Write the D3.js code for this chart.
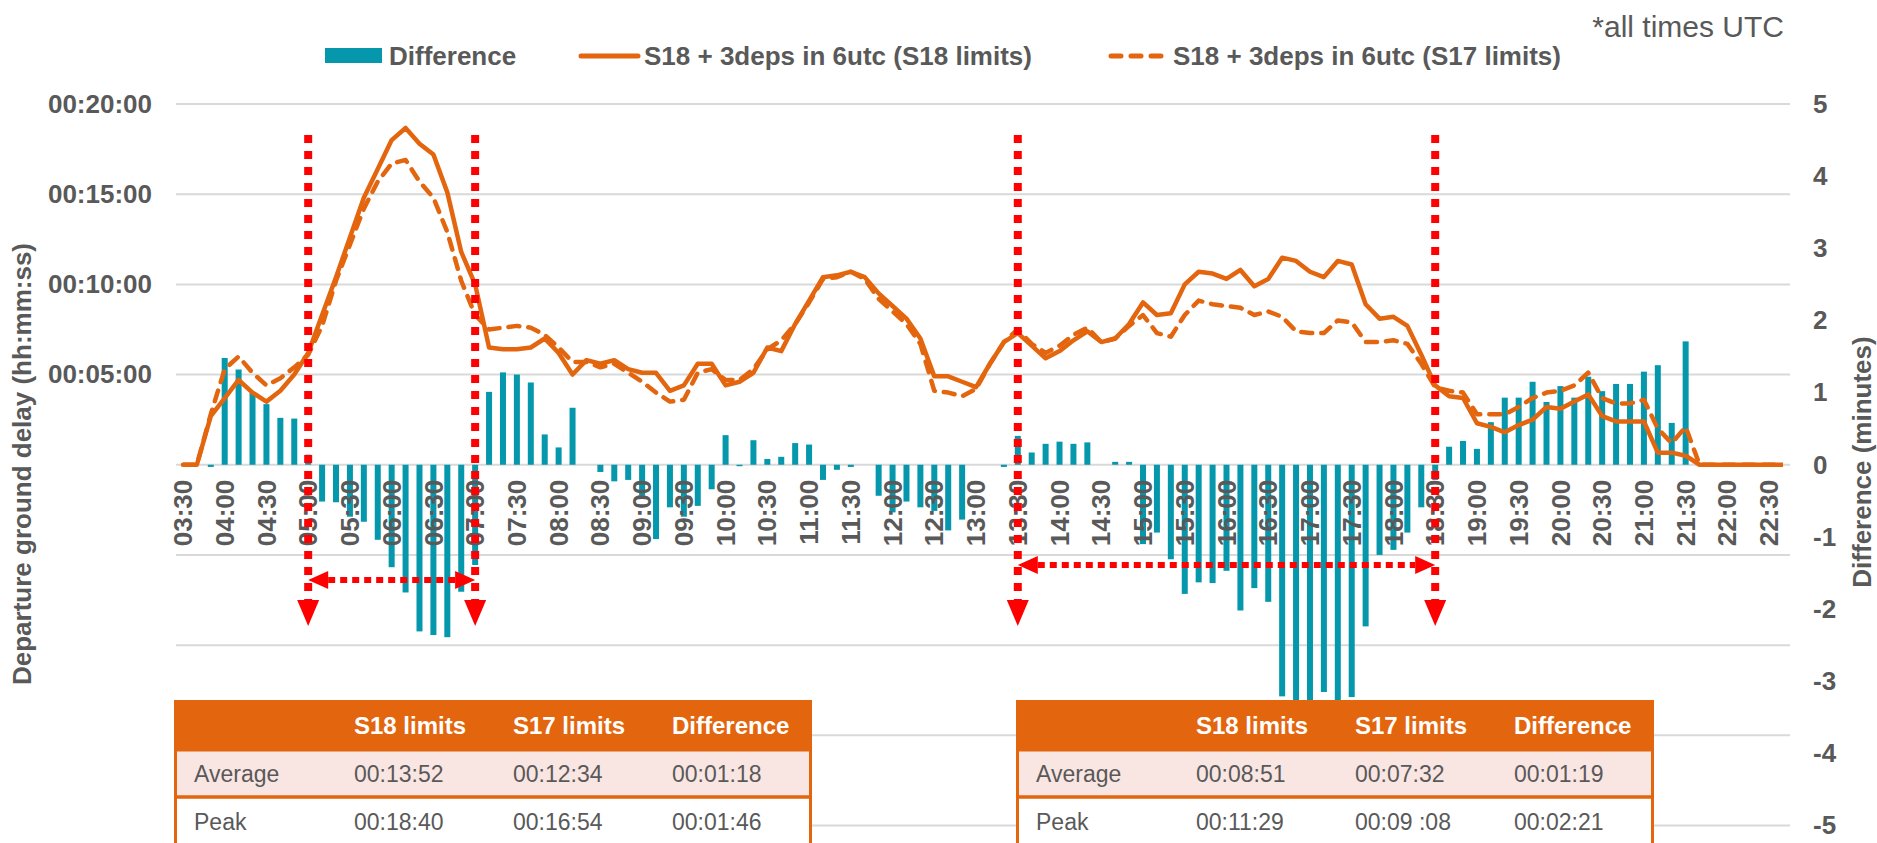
<!DOCTYPE html>
<html><head><meta charset="utf-8">
<script src="https://cdn.jsdelivr.net/npm/d3@7"></script>
<style>
body{margin:0;background:#fff;}
text{font-family:"Liberation Sans",Arial,sans-serif;}
</style>
</head><body><svg id="chart" width="1877" height="843"></svg>
<script>
// ---------------- DATA ----------------
const categories = [
"03:30","03:40","03:50",
"04:00","04:10","04:20","04:30","04:40","04:50",
"05:00","05:10","05:20","05:30","05:40","05:50",
"06:00","06:10","06:20","06:30","06:40","06:50",
"07:00","07:10","07:20","07:30","07:40","07:50",
"08:00","08:10","08:20","08:30","08:40","08:50",
"09:00","09:10","09:20","09:30","09:40","09:50",
"10:00","10:10","10:20","10:30","10:40","10:50",
"11:00","11:10","11:20","11:30","11:40","11:50",
"12:00","12:10","12:20","12:30","12:40","12:50",
"13:00","13:10","13:20","13:30","13:40","13:50",
"14:00","14:10","14:20","14:30","14:40","14:50",
"15:00","15:10","15:20","15:30","15:40","15:50",
"16:00","16:10","16:20","16:30","16:40","16:50",
"17:00","17:10","17:20","17:30","17:40","17:50",
"18:00","18:10","18:20","18:30","18:40","18:50",
"19:00","19:10","19:20","19:30","19:40","19:50",
"20:00","20:10","20:20","20:30","20:40","20:50",
"21:00","21:10","21:20","21:30","21:40","21:50",
"22:00","22:10","22:20","22:30","22:40"];

const xTickLabels = ["03:30","04:00","04:30","05:00","05:30","06:00","06:30","07:00","07:30",
"08:00","08:30","09:00","09:30","10:00","10:30","11:00","11:30","12:00","12:30","13:00",
"13:30","14:00","14:30","15:00","15:30","16:00","16:30","17:00","17:30","18:00","18:30",
"19:00","19:30","20:00","20:30","21:00","21:30","22:00","22:30"];

// departure ground delay, minutes
const s18Limits = [
0,0,2.7,3.7,4.7,4.0,3.5,4.1,5.0,6.2,
8.3,10.4,12.6,14.8,16.4,18.0,18.67,17.8,17.2,15.1,
11.8,10.0,6.5,6.4,6.4,6.5,7.0,6.2,5.0,5.8,
5.6,5.8,5.3,5.1,5.1,4.1,4.4,5.6,5.6,4.4,
4.6,5.1,6.5,6.3,7.8,9.1,10.4,10.5,10.7,10.4,
9.5,8.8,8.1,7.0,4.9,4.9,4.6,4.3,5.6,6.8,
7.3,6.6,5.9,6.3,6.9,7.4,6.8,7.0,7.8,9.0,
8.3,8.4,10.0,10.7,10.6,10.3,10.8,9.9,10.3,11.48,
11.3,10.7,10.4,11.3,11.1,8.9,8.1,8.2,7.7,6.1,
4.4,3.8,3.7,2.3,2.1,1.8,2.2,2.5,3.2,3.1,
3.5,3.9,2.7,2.4,2.4,2.4,0.67,0.67,0.5,0,
0,0,0,0,0,0];

const s17Limits = [
0,0,2.8,5.3,6.0,5.1,4.4,4.8,5.4,6.1,
7.7,10.2,12.2,14.2,15.7,16.7,16.9,15.7,14.8,12.9,
10.2,8.3,7.5,7.6,7.7,7.6,7.2,6.5,5.7,5.7,
5.4,5.6,5.1,4.6,4.0,3.5,3.6,5.1,5.3,4.7,
4.7,5.3,6.4,6.9,7.8,9.0,10.3,10.4,10.7,10.3,
9.2,8.5,7.8,6.7,4.1,4.0,3.8,4.2,5.6,6.8,
7.5,6.7,6.2,6.6,7.2,7.6,6.8,7.0,7.7,8.3,
7.3,7.1,8.3,9.1,8.9,8.8,8.7,8.3,8.5,8.2,
7.4,7.3,7.3,8.0,7.9,6.8,6.8,6.9,6.7,5.6,
4.3,4.1,4.0,2.8,2.8,2.8,3.2,3.7,4.0,4.1,
4.4,5.1,3.7,3.4,3.4,3.6,2.0,1.2,2.1,0,
0,0,0,0,0,0];

// difference, minutes (right axis)
const difference = [
0,0,-0.03,1.48,1.32,1.0,0.84,0.65,0.64,0.14,
-0.51,-0.52,-0.72,-0.79,-1.04,-1.42,-1.77,-2.31,-2.36,-2.39,
-1.76,-1.39,1.01,1.28,1.25,1.14,0.42,0.24,0.79,0,
-0.10,-0.23,-0.21,-0.43,-1.03,-0.59,-0.72,-0.57,-0.34,0.41,
-0.02,0.34,0.08,0.11,0.30,0.28,-0.21,-0.07,-0.03,0,
-0.43,-0.66,-0.51,-0.59,-0.64,-0.91,-0.76,0,0,-0.03,
0.40,0.17,0.29,0.32,0.29,0.31,0,0.04,0.04,-1.1,
-0.94,-1.31,-1.79,-1.63,-1.64,-1.47,-2.02,-1.71,-1.90,-3.21,
-3.35,-3.40,-3.15,-3.35,-3.22,-2.24,-1.25,-1.18,-0.94,-0.59,
-0.21,0.25,0.33,0.22,0.59,0.93,0.93,1.15,0.87,1.09,
0.93,1.22,1.02,1.12,1.12,1.29,1.38,0.58,1.71,0,
0,0,0,0,0,0];

const leftTickValues = [5,10,15,20];
const leftTickLabels = ["00:05:00","00:10:00","00:15:00","00:20:00"];
const gridValues = [-20,-15,-10,-5,0,5,10,15,20];
const rightTickValues = [5,4,3,2,1,0,-1,-2,-3,-4,-5];

const windowMorning = ["05:00","07:00"];
const windowEvening = ["13:30","18:30"];

const tableHeader = ["", "S18 limits", "S17 limits", "Difference"];
const tableMorning = [["Average","00:13:52","00:12:34","00:01:18"],["Peak","00:18:40","00:16:54","00:01:46"]];
const tableEvening = [["Average","00:08:51","00:07:32","00:01:19"],["Peak","00:11:29","00:09 :08","00:02:21"]];

const legendLabels = ["Difference","S18 + 3deps in 6utc (S18 limits)","S18 + 3deps in 6utc (S17 limits)"];

// ---------------- STYLE ----------------
const TEXT = "#595959", GRID = "#D9D9D9", TEAL = "#0597AC", ORANGE = "#E3650E", RED = "#FF0000";
const FONT = "26px";

const svg = d3.select("#chart");

const x = d3.scaleBand().domain(categories).range([176, 1790]).padding(0);
const cx = c => x(c) + x.bandwidth() / 2;
const yL = d3.scaleLinear().domain([-20, 20]).range([825.5, 104]);
const yR = d3.scaleLinear().domain([-5, 5]).range([825.5, 104]);

// gridlines
svg.append("g").selectAll("line").data(gridValues).join("line")
  .attr("x1", 176).attr("x2", 1790)
  .attr("y1", d => yL(d)).attr("y2", d => yL(d))
  .attr("stroke", GRID).attr("stroke-width", 2);

// bars
svg.append("g").selectAll("rect").data(difference).join("rect")
  .attr("x", (d, i) => cx(categories[i]) - 3)
  .attr("width", 6)
  .attr("y", d => yR(Math.max(0, d)))
  .attr("height", d => Math.abs(yR(d) - yR(0)))
  .attr("fill", TEAL);

// lines
const line = d3.line().x((d, i) => cx(categories[i])).y(d => yL(d));
svg.append("path").datum(s17Limits).attr("d", line)
  .attr("fill", "none").attr("stroke", ORANGE).attr("stroke-width", 4.5)
  .attr("stroke-dasharray", "11 9").attr("stroke-linecap", "round").attr("stroke-linejoin", "round");
svg.append("path").datum(s18Limits).attr("d", line)
  .attr("fill", "none").attr("stroke", ORANGE).attr("stroke-width", 4.5)
  .attr("stroke-linejoin", "round");

// x axis
const xAxis = svg.append("g").attr("transform", `translate(0,${yL(0)})`)
  .call(d3.axisBottom(x).tickValues(xTickLabels).tickSize(0));
xAxis.select(".domain").remove();
xAxis.selectAll("text")
  .attr("transform", "rotate(-90)")
  .attr("text-anchor", "end")
  .attr("x", -15).attr("y", 0).attr("dy", "0.35em")
  .attr("fill", TEXT).style("font-size", FONT).style("font-weight", "bold")
  .style("font-family", '"Liberation Sans",Arial,sans-serif');

// left axis
const lAxis = svg.append("g").attr("transform", "translate(160,0)")
  .call(d3.axisLeft(yL).tickValues(leftTickValues).tickFormat((d, i) => leftTickLabels[i]).tickSize(0).tickPadding(8));
lAxis.select(".domain").remove();
lAxis.selectAll("text").attr("fill", TEXT).style("font-size", FONT).style("font-weight", "bold")
  .style("font-family", '"Liberation Sans",Arial,sans-serif');

// right axis
const rAxis = svg.append("g").attr("transform", "translate(1813,0)")
  .call(d3.axisRight(yR).tickValues(rightTickValues).tickFormat(d => String(d)).tickSize(0).tickPadding(0));
rAxis.select(".domain").remove();
rAxis.selectAll("text").attr("fill", TEXT).style("font-size", FONT).style("font-weight", "bold")
  .style("font-family", '"Liberation Sans",Arial,sans-serif');

// axis titles
svg.append("text").attr("transform", "translate(22,464) rotate(-90)")
  .attr("text-anchor", "middle").attr("dy", "0.35em")
  .attr("fill", TEXT).style("font-size", FONT).style("font-weight", "bold")
  .text("Departure ground delay (hh:mm:ss)");
svg.append("text").attr("transform", "translate(1862,462) rotate(-90)")
  .attr("text-anchor", "middle").attr("dy", "0.35em")
  .attr("fill", TEXT).style("font-size", FONT).style("font-weight", "bold")
  .text("Difference (minutes)");

// red window annotations
function drawWindow(w, arrowY) {
  const xa = cx(w[0]), xb = cx(w[1]);
  const g = svg.append("g");
  [xa, xb].forEach(xx => {
    g.append("line").attr("x1", xx).attr("x2", xx).attr("y1", 135).attr("y2", 602)
      .attr("stroke", RED).attr("stroke-width", 8).attr("stroke-dasharray", "8 8");
    g.append("path").attr("d", `M${xx - 11},600 L${xx + 11},600 L${xx},626 Z`).attr("fill", RED);
  });
  g.append("line").attr("x1", xa + 20).attr("x2", xb - 20).attr("y1", arrowY).attr("y2", arrowY)
    .attr("stroke", RED).attr("stroke-width", 6).attr("stroke-dasharray", "7 5");
  g.append("path").attr("d", `M${xa},${arrowY} L${xa + 20},${arrowY - 9} L${xa + 20},${arrowY + 9} Z`).attr("fill", RED);
  g.append("path").attr("d", `M${xb},${arrowY} L${xb - 20},${arrowY - 9} L${xb - 20},${arrowY + 9} Z`).attr("fill", RED);
}
drawWindow(windowMorning, 580);
drawWindow(windowEvening, 565);

// tables
function drawTable(x0, rows) {
  const w = 638, top = 700, hh = 50, rh = 48;
  const colX = [20, 180, 339, 498];
  const g = svg.append("g");
  g.append("rect").attr("x", x0).attr("y", top + hh).attr("width", w).attr("height", rh).attr("fill", "#F9E6E3");
  g.append("rect").attr("x", x0).attr("y", top + hh + rh).attr("width", w).attr("height", rh + 10).attr("fill", "#fff");
  g.append("rect").attr("x", x0 + 1.5).attr("y", top + hh).attr("width", w - 3).attr("height", 2 * rh + 20)
    .attr("fill", "none").attr("stroke", ORANGE).attr("stroke-width", 3);
  g.append("line").attr("x1", x0).attr("x2", x0 + w).attr("y1", top + hh + rh - 1).attr("y2", top + hh + rh - 1)
    .attr("stroke", ORANGE).attr("stroke-width", 3.5);
  g.append("rect").attr("x", x0).attr("y", top).attr("width", w).attr("height", hh).attr("fill", ORANGE);
  g.selectAll(".h").data(tableHeader).join("text")
    .attr("x", (d, i) => x0 + colX[i]).attr("y", top + hh / 2 + 1).attr("dy", "0.35em")
    .attr("fill", "#fff").style("font-size", "24px").style("font-weight", "bold").text(d => d);
  rows.forEach((r, ri) => {
    g.selectAll(".r" + ri).data(r).join("text")
      .attr("x", (d, i) => x0 + colX[i]).attr("y", top + hh + rh * ri + rh / 2).attr("dy", "0.35em")
      .attr("fill", TEXT).style("font-size", "23px").text(d => d);
  });
}
drawTable(174, tableMorning);
drawTable(1016, tableEvening);

// legend
const lg = svg.append("g");
lg.append("rect").attr("x", 325).attr("y", 48).attr("width", 57).attr("height", 15).attr("fill", TEAL);
lg.append("line").attr("x1", 581).attr("x2", 638).attr("y1", 56).attr("y2", 56)
  .attr("stroke", ORANGE).attr("stroke-width", 5).attr("stroke-linecap", "round");
lg.append("line").attr("x1", 1111).attr("x2", 1165).attr("y1", 56).attr("y2", 56)
  .attr("stroke", ORANGE).attr("stroke-width", 5).attr("stroke-linecap", "round").attr("stroke-dasharray", "10 10");
lg.selectAll("text").data(legendLabels).join("text")
  .attr("x", (d, i) => [389, 644, 1173][i]).attr("y", 65)
  .attr("fill", TEXT).style("font-size", FONT).style("font-weight", "bold").text(d => d);

// note
svg.append("text").attr("x", 1784).attr("y", 37).attr("text-anchor", "end")
  .attr("fill", TEXT).style("font-size", "30px").text("*all times UTC");
</script>
</body></html>
